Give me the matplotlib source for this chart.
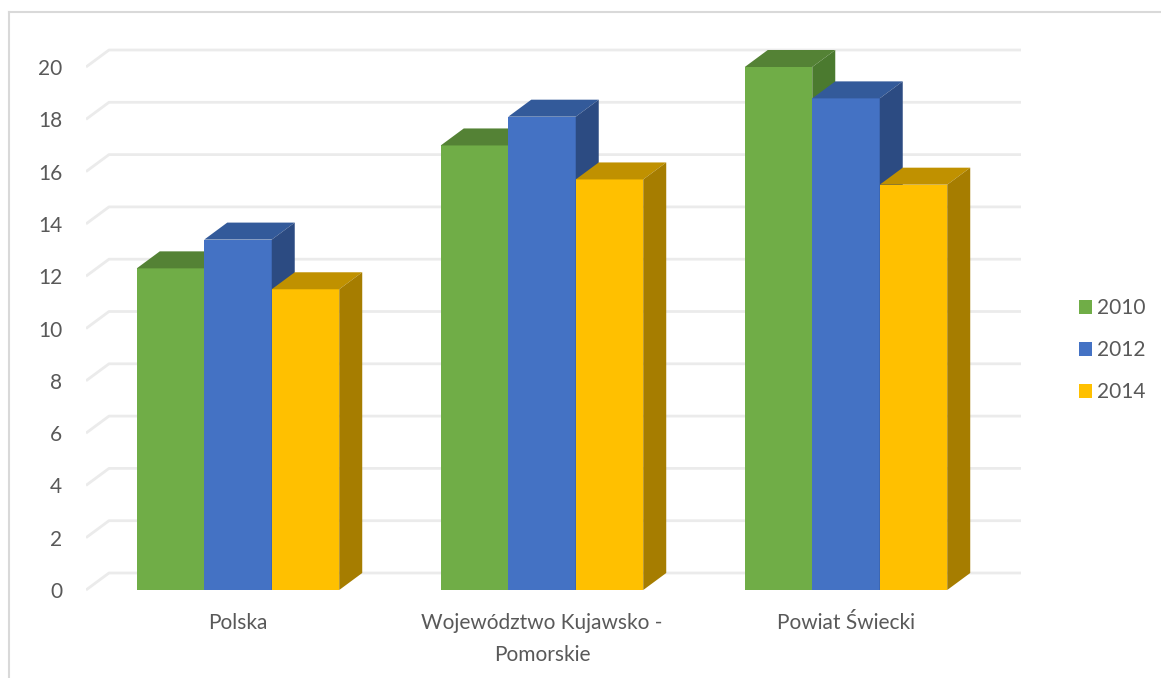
import matplotlib
matplotlib.use("Agg")
import matplotlib.pyplot as plt
from matplotlib.patches import Polygon, Patch
from matplotlib.lines import Line2D
import numpy as np

categories = ["Polska", "Województwo Kujawsko -\nPomorskie", "Powiat Świecki"]
series_names = ["2010", "2012", "2014"]
values_2010 = [12.3, 17.0, 20.0]
values_2012 = [13.4, 18.1, 18.8]
values_2014 = [11.5, 15.7, 15.5]
series_values = [values_2010, values_2012, values_2014]
y_ticks = [0, 2, 4, 6, 8, 10, 12, 14, 16, 18, 20]

front_colors = ["#70AD47", "#4472C4", "#FFC000"]
top_colors = ["#548235", "#335A9A", "#C09100"]
side_colors = ["#4B7A2F", "#2C4B82", "#A67D00"]

plt.rcParams['font.family'] = ['Lato', 'DejaVu Sans']

W, H = 1161, 678
fig = plt.figure(figsize=(W / 100, H / 100), dpi=100)

# mapping: pixel_x = 238 + 304*x ; pixel_y(top) = 590 - 26.15*v
px_per_x = 304.0
px_per_v = 26.15
x0_px, v0_px = 238.0, 590.0
xlim = (-0.5, 2.6)
ylim = (-0.4, 21.0)
left_px = x0_px + px_per_x * xlim[0]
right_px = x0_px + px_per_x * xlim[1]
top_px = v0_px - px_per_v * ylim[1]
bot_px = v0_px - px_per_v * ylim[0]
ax = fig.add_axes([left_px / W, 1 - bot_px / H, (right_px - left_px) / W, (bot_px - top_px) / H])
ax.set_xlim(*xlim)
ax.set_ylim(*ylim)
for s in ax.spines.values():
    s.set_visible(False)

ddx = 23.0 / px_per_x
ddy = 17.0 / px_per_v
wall_left = -0.5
wall_right = 2.5
grid_color = "#EBEBEB"

# gridlines: side wall diagonal + back wall
for v in y_ticks:
    ax.plot([wall_left, wall_left + ddx, wall_right + ddx], [v, v + ddy, v + ddy],
            color=grid_color, lw=2, zorder=1, solid_capstyle='butt')

bar_w = 0.222
n = len(series_values)
z = 3
for gi in range(len(categories)):
    for si in range(n):
        val = series_values[si][gi]
        xl = gi + (si - (n - 1) / 2) * bar_w - bar_w / 2
        xr = xl + bar_w
        ax.add_patch(Polygon([[xl, 0], [xr, 0], [xr, val], [xl, val]], closed=True,
                             facecolor=front_colors[si], edgecolor='none', zorder=z))
        ax.add_patch(Polygon([[xl, val], [xr, val], [xr + ddx, val + ddy], [xl + ddx, val + ddy]],
                             closed=True, facecolor=top_colors[si], edgecolor='none', zorder=z))
        ax.add_patch(Polygon([[xr, 0], [xr + ddx, ddy], [xr + ddx, val + ddy], [xr, val]],
                             closed=True, facecolor=side_colors[si], edgecolor='none', zorder=z))
        z += 1

ax.set_yticks(y_ticks)
ax.set_yticklabels([str(t) for t in y_ticks])
ax.set_xticks(range(len(categories)))
ax.set_xticklabels(categories, linespacing=1.75)
ax.tick_params(axis='y', length=0, pad=17, labelsize=15, labelcolor="#595959")
ax.tick_params(axis='x', length=0, pad=9, labelsize=15, labelcolor="#595959")

# frame
fig.add_artist(Line2D([8.5 / W, 1.0], [1 - 12 / H, 1 - 12 / H], color="#D9D9D9", lw=1.5))
fig.add_artist(Line2D([8.5 / W, 8.5 / W], [1 - 12 / H, 0], color="#D9D9D9", lw=1.5))

handles = [Patch(facecolor=c, edgecolor='none') for c in front_colors]
fig.legend(handles, series_names, loc='center left',
           bbox_to_anchor=(1060 / W, 1 - 350 / H), frameon=False,
           fontsize=15, labelcolor="#595959", handlelength=0.65, handleheight=0.65,
           handletextpad=0.25, labelspacing=1.05)

fig.savefig("out.png", dpi=100)
